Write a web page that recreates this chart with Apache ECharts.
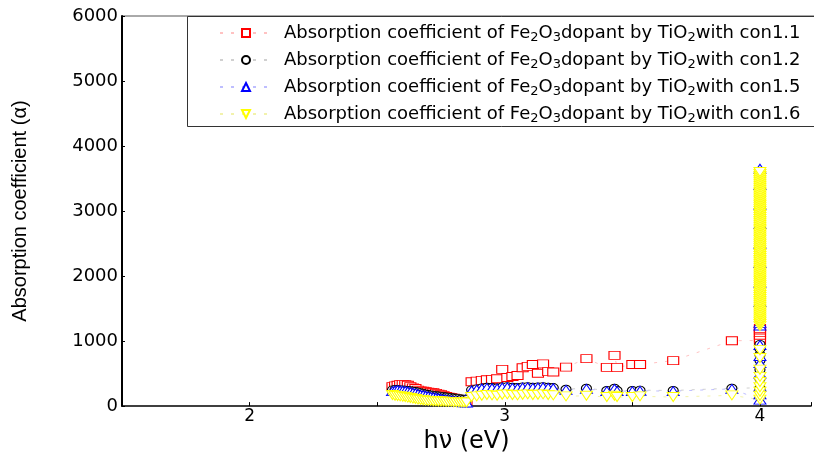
<!DOCTYPE html>
<html>
<head>
<meta charset="utf-8">
<script src="https://cdn.jsdelivr.net/npm/echarts@6/dist/echarts.min.js"></script>
<style>
html, body { margin: 0; padding: 0; background: #fff; }
#chart { width: 814px; height: 459px; }
</style>
</head>
<body>
<div id="chart"></div>
<script>
// photon energy (eV) shared by all four samples
var energy = [2.56, 2.57, 2.58, 2.59, 2.60, 2.61, 2.62, 2.63, 2.64, 2.65, 2.66, 2.67, 2.68, 2.69, 2.70,
    2.71, 2.72, 2.73, 2.74, 2.75, 2.76, 2.77, 2.78, 2.79, 2.80, 2.81, 2.82, 2.83, 2.84, 2.85,
    2.87, 2.89, 2.91, 2.93, 2.95, 2.97, 2.99, 3.01, 3.03, 3.05, 3.07, 3.09, 3.11, 3.13, 3.15, 3.17, 3.19,
    3.24, 3.32, 3.40, 3.43, 3.44, 3.50, 3.53, 3.66, 3.89];
var edgeEnergy = 4.0;

var absCon11 = [300, 310, 320, 330, 335, 330, 320, 300, 280, 270, 245, 235, 228, 222, 216,
    210, 205, 195, 185, 175, 160, 148, 138, 128, 120, 112, 104, 96, 90, 85,
    375, 385, 395, 405, 410, 420, 565, 440, 455, 470, 590, 610, 640, 505, 650, 530, 525,
    600, 730, 595, 780, 595, 640, 640, 700, 1005];
var absCon12 = [250, 255, 255, 250, 250, 245, 240, 235, 230, 225, 215, 205, 195, 185, 178,
    170, 165, 160, 155, 150, 145, 140, 135, 130, 125, 120, 115, 110, 105, 100,
    250, 265, 280, 290, 285, 280, 295, 300, 290, 285, 295, 300, 290, 295, 300, 290, 285,
    260, 275, 240, 275, 240, 240, 245, 240, 275];
var absCon15 = [230, 240, 245, 240, 235, 230, 225, 215, 205, 195, 185, 175, 168, 160, 150,
    142, 135, 128, 120, 112, 105, 98, 92, 86, 80, 75, 70, 65, 60, 55,
    240, 255, 270, 280, 275, 270, 285, 290, 280, 275, 285, 290, 280, 285, 290, 280, 275,
    250, 265, 230, 265, 230, 230, 235, 230, 265];
var absCon16 = [170, 160, 155, 150, 145, 140, 130, 125, 115, 110, 100, 95, 90, 85, 80,
    80, 75, 75, 70, 70, 70, 65, 65, 65, 60, 60, 60, 55, 55, 55,
    140, 150, 160, 170, 165, 160, 175, 180, 170, 165, 175, 180, 170, 175, 180, 170, 165,
    150, 160, 140, 160, 140, 140, 150, 140, 165];

// values piled up at the 4 eV edge
var edgeCon11 = [1010, 1050, 1090, 1130, 1170, 1195];
var edgeCon12 = [280, 420, 560, 700, 790, 880, 950];
var edgeCon15 = [100, 180, 300, 500, 660, 770, 940, 1240, 1280, 1600, 1900, 2200, 2500, 2800, 3100, 3400, 3650];
var edgeCon16 = [100, 160, 220, 290, 370, 450, 560, 740, 860,
    1230, 1262, 1290, 1318, 1350, 1381, 1409, 1440, 1468, 1500, 1529, 1561, 1590, 1618, 1650, 1679,
    1710, 1738, 1770, 1799, 1830, 1858, 1890, 1921, 1950, 1979, 2010, 2039, 2070, 2098, 2130, 2160,
    2189, 2220, 2248, 2280, 2310, 2339, 2370, 2398, 2430, 2461, 2490, 2519, 2550, 2580, 2609, 2640,
    2669, 2700, 2730, 2758, 2790, 2820, 2849, 2880, 2910, 2939, 2970, 3000, 3029, 3060, 3090, 3119,
    3150, 3180, 3209, 3240, 3270, 3299, 3330, 3360, 3389, 3420, 3450, 3479, 3510, 3540, 3570, 3600];

var seriesNames = ['con1.1', 'con1.2', 'con1.5', 'con1.6'];
var xTicks = [2, 3, 4];

var FONT = '"DejaVu Sans", "Liberation Sans", sans-serif';

function buildPoints(values, edgeValues) {
    var pts = [];
    for (var i = 0; i < energy.length; i++) {
        pts.push([energy[i], values[i]]);
    }
    for (var j = 0; j < edgeValues.length; j++) {
        pts.push([edgeEnergy, edgeValues[j]]);
    }
    return pts;
}

function makeSerie(idx, values, edgeValues, symbol, size, rotate, color, lineColor) {
    return {
        name: seriesNames[idx],
        type: 'line',
        data: buildPoints(values, edgeValues),
        symbol: symbol,
        symbolSize: size,
        symbolRotate: rotate,
        showAllSymbol: true,
        clip: false,
        itemStyle: { color: '#fff', borderColor: color, borderWidth: 1 },
        lineStyle: { color: lineColor, width: 1, type: [3, 8] },
        emphasis: { disabled: true },
        animation: false
    };
}

var chart = echarts.init(document.getElementById('chart'));

var option = {
    backgroundColor: '#fff',
    grid: { left: 122, right: 1, top: 16, bottom: 36 },
    legend: {
        orient: 'vertical',
        left: 219,
        top: 24,
        padding: 0,
        itemWidth: 52,
        itemHeight: 10,
        itemGap: 7,
        data: seriesNames,
        textStyle: {
            fontFamily: FONT,
            fontSize: 18,
            color: '#000',
            padding: [0, 0, 0, 7],
            rich: {
                t: { fontFamily: FONT, fontSize: 18, lineHeight: 22, color: '#000' },
                s: { fontFamily: FONT, fontSize: 13, lineHeight: 12, verticalAlign: 'bottom', color: '#000' }
            }
        },
        formatter: function (name) {
            return '{t|Absorption coefficient of Fe}{s|2}{t|O}{s|3}{t|dopant by TiO}{s|2}{t|with ' + name + '}';
        }
    },
    xAxis: {
        type: 'value',
        min: 1.5,
        max: 4.2,
        interval: 0.5,
        name: 'h\u03bd (eV)',
        nameLocation: 'middle',
        nameGap: 12,
        nameTextStyle: { fontFamily: FONT, fontSize: 24, color: '#000' },
        axisLine: { lineStyle: { color: '#000', width: 1.5 } },
        axisTick: { inside: true, length: 4, lineStyle: { color: '#000' } },
        splitLine: { show: false },
        axisLabel: {
            fontFamily: FONT,
            fontSize: 17,
            color: '#000',
            margin: 2,
            formatter: function (v) {
                return xTicks.indexOf(v) >= 0 ? String(v) : '';
            }
        }
    },
    yAxis: {
        type: 'value',
        min: 0,
        max: 6000,
        interval: 1000,
        name: 'Absorption coefficient (\u03b1)',
        nameLocation: 'middle',
        nameGap: 92,
        nameTextStyle: { fontFamily: '"Liberation Sans Narrow", "Liberation Sans", Arial, sans-serif', fontSize: 20, color: '#000' },
        axisLine: { lineStyle: { color: '#000', width: 2 } },
        axisTick: { inside: true, length: 3, lineStyle: { color: '#000' } },
        splitLine: { show: false },
        axisLabel: {
            fontFamily: FONT,
            fontSize: 18,
            color: '#000',
            margin: 4,
            formatter: function (v) {
                return String(v);
            }
        }
    },
    graphic: [
        {
            type: 'line',
            shape: { x1: 122, y1: 16, x2: 814, y2: 16 },
            style: { stroke: '#555', lineWidth: 1 },
            silent: true
        },
        {
            type: 'rect',
            shape: { x: 187.5, y: 16.5, width: 640, height: 110 },
            style: { fill: 'none', stroke: '#333', lineWidth: 1 },
            silent: true
        }
    ],
    series: [
        makeSerie(0, absCon11, edgeCon11, 'rect', [11, 8], 0, '#ff0000', 'rgba(255,120,120,0.45)'),
        makeSerie(1, absCon12, edgeCon12, 'circle', [10, 8], 0, '#000000', 'rgba(120,120,120,0.35)'),
        makeSerie(2, absCon15, edgeCon15, 'triangle', [12, 9], 0, '#0000ff', 'rgba(110,110,255,0.45)'),
        makeSerie(3, absCon16, edgeCon16, 'triangle', [12, 9], 180, '#ffff00', 'rgba(230,230,90,0.5)')
    ]
};

chart.setOption(option);
</script>
</body>
</html>
